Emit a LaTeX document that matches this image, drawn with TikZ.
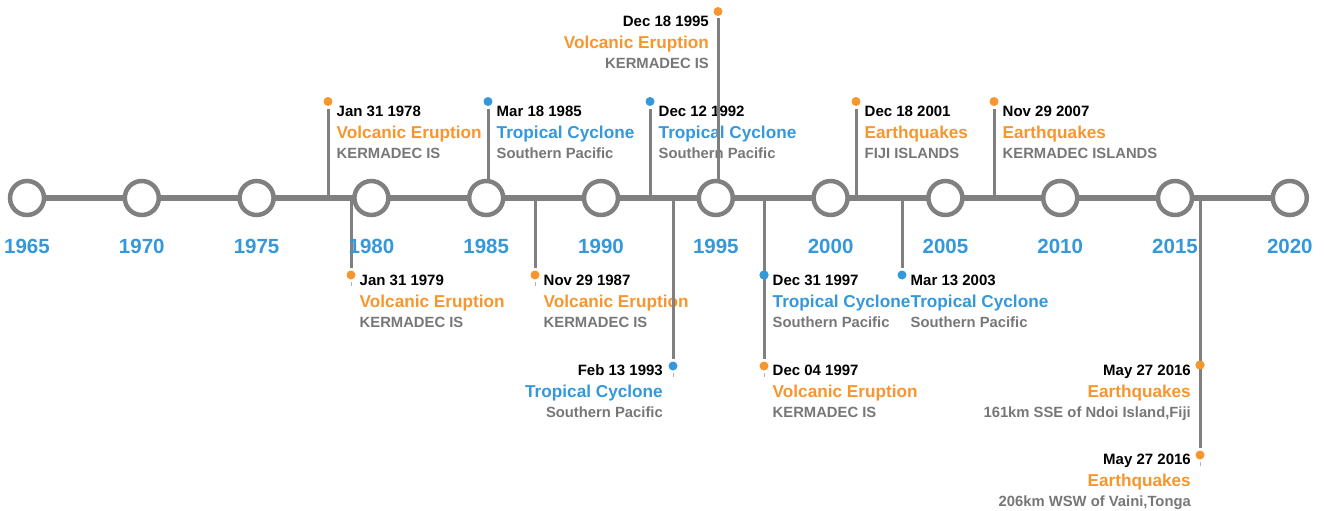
\documentclass[tikz,border=0pt]{standalone}
\usepackage{fontspec}
\setmainfont{Liberation Sans}
\usetikzlibrary{calc}
\definecolor{evorange}{RGB}{247,150,46}
\definecolor{evblue}{RGB}{52,152,219}
\definecolor{linegray}{RGB}{128,128,128}
\definecolor{subgray}{RGB}{119,119,119}
\tikzset{
  axisline/.style={line width=6pt, draw=linegray},
  yearring/.style={circle, draw=linegray, line width=4.5pt, fill=white, minimum size=34pt, inner sep=0pt},
  yearlabel/.style={font=\bfseries\fontsize{20.5}{20.5}\selectfont, text=evblue, anchor=base, inner sep=0pt},
  stemline/.style={line width=3pt, draw=linegray, shorten >=7pt},
  ticka/.style={line width=1pt, draw=linegray!60},
  evdot/.style={circle, minimum size=9pt, inner sep=0pt, draw=none},
  datetext/.style={font=\bfseries\fontsize{15}{15}\selectfont, text=black, inner sep=0pt},
  titletext/.style={font=\bfseries\fontsize{17.2}{17.2}\selectfont, inner sep=0pt},
  subtext/.style={font=\bfseries\fontsize{14.8}{14.8}\selectfont, text=subgray, inner sep=0pt},
}
% #1 dot name, #2 anchor side, #3 x offset, #4 date baseline offset, #5 colour, #6 date, #7 title, #8 subtitle
\newcommand{\evlabel}[8]{%
  \node[datetext,anchor=base #2] (#1-date) at ($(#1)+(#3,#4)$) {#6};
  \node[titletext,text=#5,anchor=base #2] (#1-title) at ($(#1)+(#3,#4+22)$) {#7};
  \node[subtext,anchor=base #2] (#1-sub) at ($(#1)+(#3,#4+42)$) {#8};
}
\begin{document}
\begin{tikzpicture}[x=1pt,y=-1pt]
\useasboundingbox (0,0) rectangle (1325,511);
% axis end points
\coordinate (axL) at (27,198);
\coordinate (axR) at (1290,198);
% dots (positions)
\node[evdot,fill=evorange] (e1) at (328,101.5) {};
\node[evdot,fill=evblue]   (e2) at (488,101.5) {};
\node[evdot,fill=evblue]   (e3) at (650,101.5) {};
\node[evdot,fill=evorange] (e4) at (718,11.5) {};
\node[evdot,fill=evorange] (e5) at (856,101.5) {};
\node[evdot,fill=evorange] (e6) at (994,101.5) {};
\node[evdot,fill=evorange] (e7) at (351,275) {};
\node[evdot,fill=evorange] (e8) at (535,275) {};
\node[evdot,fill=evblue]   (e9) at (673,366) {};
\node[evdot,fill=evblue]   (e10) at (764,275) {};
\node[evdot,fill=evorange] (e11) at (764,366) {};
\node[evdot,fill=evblue]   (e12) at (902,275) {};
\node[evdot,fill=evorange] (e13) at (1200,365) {};
\node[evdot,fill=evorange] (e14) at (1200,455) {};
% texts
\evlabel{e1}{west}{8.5}{15}{evorange}{Jan 31 1978}{Volcanic Eruption}{KERMADEC IS}
\evlabel{e2}{west}{8.5}{15}{evblue}{Mar 18 1985}{Tropical Cyclone}{Southern Pacific}
\evlabel{e3}{west}{8.5}{15}{evblue}{Dec 12 1992}{Tropical Cyclone}{Southern Pacific}
\evlabel{e4}{east}{-9}{15}{evorange}{Dec 18 1995}{Volcanic Eruption}{KERMADEC IS}
\evlabel{e5}{west}{8.5}{15}{evorange}{Dec 18 2001}{Earthquakes}{FIJI ISLANDS}
\evlabel{e6}{west}{8.5}{15}{evorange}{Nov 29 2007}{Earthquakes}{KERMADEC ISLANDS}
\evlabel{e7}{west}{8.5}{10}{evorange}{Jan 31 1979}{Volcanic Eruption}{KERMADEC IS}
\evlabel{e8}{west}{8.5}{10}{evorange}{Nov 29 1987}{Volcanic Eruption}{KERMADEC IS}
\evlabel{e9}{east}{-10}{9}{evblue}{Feb 13 1993}{Tropical Cyclone}{Southern Pacific}
\evlabel{e10}{west}{8.5}{10}{evblue}{Dec 31 1997}{Tropical Cyclone}{Southern Pacific}
\evlabel{e11}{west}{8.5}{9}{evorange}{Dec 04 1997}{Volcanic Eruption}{KERMADEC IS}
\evlabel{e12}{west}{8.5}{10}{evblue}{Mar 13 2003}{Tropical Cyclone}{Southern Pacific}
\evlabel{e13}{east}{-9}{10}{evorange}{May 27 2016}{Earthquakes}{161km SSE of Ndoi Island,Fiji}
\evlabel{e14}{east}{-9}{9}{evorange}{May 27 2016}{Earthquakes}{206km WSW of Vaini,Tonga}
% stems
\coordinate (s1) at (328,198);
\coordinate (s2) at (488,198);
\coordinate (s3) at (650,198);
\coordinate (s4) at (718,198);
\coordinate (s5) at (856,198);
\coordinate (s6) at (994,198);
\coordinate (s7) at (351,198);
\coordinate (s8) at (535,198);
\coordinate (s9) at (673,198);
\coordinate (s11) at (764,198);
\coordinate (s12) at (902,198);
\coordinate (s14) at (1200,198);
\foreach \i in {1,2,3,4,5,6,7,8,9,11,12,14} {
  \draw[stemline] (s\i) -- (e\i.center);
}
% small ticks under the lowest dots
\foreach \i in {7,8,9,11,14} {
  \draw[ticka] ([yshift=-2pt]e\i.south) -- ++(0,4);
}
% axis
\draw[axisline] (axL) -- (axR);
% year rings and labels
\foreach \yr [count=\k from 0] in {1965,1970,1975,1980,1985,1990,1995,2000,2005,2010,2015,2020} {
  \node[yearring] (y\yr) at ({27+114.8*\k},198) {};
  \node[yearlabel] (l\yr) at ({27+114.8*\k},253) {\yr};
}
% dots lying on a passing stem, redrawn on top
\node[evdot,fill=evblue] (e10top) at (e10.center) {};
\node[evdot,fill=evorange] (e13top) at (e13.center) {};
\end{tikzpicture}
\end{document}
